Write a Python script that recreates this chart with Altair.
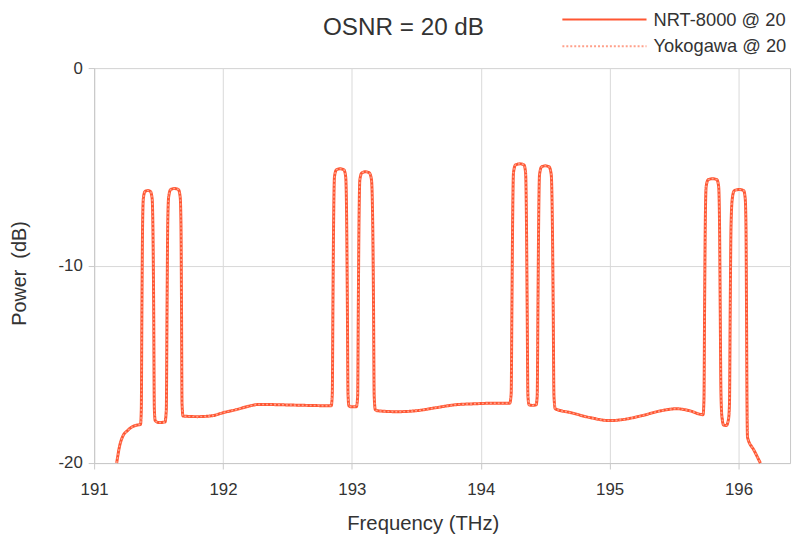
import altair as alt
import pandas as pd

# Spectrum (frequency in THz, power in dB)
freq = [
    191.175, 191.199, 191.222, 191.260, 191.300, 191.340, 191.360,
    # channel 1
    191.366, 191.371, 191.376, 191.382, 191.395, 191.416, 191.437, 191.450, 191.456, 191.462, 191.467, 191.474,
    191.500, 191.550,
    # channel 2
    191.560, 191.566, 191.571, 191.578, 191.594, 191.624, 191.654, 191.668, 191.674, 191.678, 191.682, 191.690,
    191.800, 191.920, 192.000, 192.100, 192.200, 192.280, 192.450, 192.650, 192.840,
    # channel 3
    192.848, 192.853, 192.858, 192.865, 192.880, 192.909, 192.938, 192.952, 192.960, 192.965, 192.970, 192.977,
    192.990, 193.035,
    # channel 4
    193.045, 193.050, 193.055, 193.062, 193.078, 193.105, 193.135, 193.152, 193.162, 193.168, 193.173, 193.182,
    193.200, 193.350, 193.500, 193.650, 193.800, 193.950, 194.100, 194.225,
    # channel 5
    194.236, 194.242, 194.247, 194.254, 194.270, 194.305, 194.335, 194.348, 194.355, 194.360, 194.366, 194.375,
    194.400, 194.430,
    # channel 6
    194.438, 194.444, 194.449, 194.456, 194.472, 194.500, 194.530, 194.547, 194.556, 194.562, 194.568, 194.578,
    194.700, 194.850, 195.000, 195.100, 195.250, 195.400, 195.520, 195.620, 195.725,
    # channel 7
    195.732, 195.737, 195.742, 195.749, 195.765, 195.801, 195.832, 195.846, 195.853, 195.858, 195.864, 195.872,
    195.885, 195.905, 195.922,
    # channel 8
    195.930, 195.936, 195.942, 195.952, 195.968, 196.008, 196.040, 196.052, 196.058, 196.062, 196.066, 196.070,
    196.120, 196.170,
]
power = [
    -20.0, -19.1, -18.65, -18.35, -18.15, -18.07, -18.05,
    -17.3, -12.0, -8.0, -6.6, -6.25, -6.2, -6.25, -6.6, -8.0, -12.0, -17.2, -17.85,
    -17.95, -17.92,
    -17.3, -12.0, -8.0, -6.55, -6.15, -6.1, -6.15, -6.55, -8.0, -12.0, -17.0, -17.62,
    -17.65, -17.6, -17.45, -17.3, -17.12, -17.03, -17.05, -17.08, -17.1,
    -16.5, -12.0, -8.0, -5.5, -5.15, -5.1, -5.15, -5.5, -8.0, -12.0, -16.5, -17.1,
    -17.15, -17.15,
    -16.6, -12.0, -8.0, -5.65, -5.3, -5.25, -5.3, -5.65, -8.0, -12.0, -16.6, -17.3,
    -17.35, -17.4, -17.35, -17.2, -17.05, -17.0, -16.97, -16.97,
    -16.5, -12.0, -8.0, -5.3, -4.9, -4.85, -4.9, -5.3, -8.0, -12.0, -16.6, -17.05,
    -17.08, -17.05,
    -16.6, -12.0, -8.0, -5.4, -5.0, -4.95, -5.0, -5.4, -8.0, -12.0, -16.6, -17.25,
    -17.45, -17.7, -17.85, -17.8, -17.6, -17.35, -17.25, -17.35, -17.55,
    -16.8, -12.0, -8.0, -6.0, -5.65, -5.6, -5.65, -6.0, -8.0, -12.0, -16.5, -17.7,
    -18.08, -18.1, -17.8,
    -17.0, -12.0, -8.0, -6.6, -6.2, -6.15, -6.2, -6.6, -8.0, -12.0, -17.0, -18.7,
    -19.35, -20.0,
]
# The two instruments' traces coincide in the picture
series_names = ["NRT-8000 @ 20", "Yokogawa @ 20"]
series_colors = ["#ff5632", "#ffa08a"]
series_dash = [[1, 0], [2, 2]]
x_ticks = [191, 192, 193, 194, 195, 196]
y_ticks = [-20, -10, 0]

rows = []
for name in series_names:
    for f, p in zip(freq, power):
        rows.append({"series": name, "freq": f, "power": p})
df = pd.DataFrame(rows)

FONT = "Liberation Sans"
TXT = "#333333"

legend = alt.Legend(
    title=None, orient="none", legendX=472, legendY=-60,
    symbolType="M-1,0H7.5", symbolSize=400, symbolStrokeWidth=2,
    labelFont=FONT, labelFontSize=18.5, labelColor=TXT, labelOffset=71,
    rowPadding=6, padding=0,
)

base = alt.Chart(df).encode(
    x=alt.X("freq:Q", scale=alt.Scale(domain=[191, 196.4], nice=False, zero=False),
            axis=alt.Axis(values=x_ticks, format="d", title="Frequency (THz)",
                          tickSize=6, labelPadding=13, labelFontSize=17, labelFlush=False,
                          titleFontSize=20.5, titleX=332, titleY=61, titleBaseline="middle")),
    y=alt.Y("power:Q", scale=alt.Scale(domain=[-20, 0], nice=False, zero=False),
            axis=alt.Axis(values=y_ticks, labelExpr="'' + datum.value", title="Power\u00a0 (dB)",
                          tickSize=6, labelPadding=6, labelFontSize=17, labelFlush=False,
                          titleFontSize=20, titleX=-75, titleY=207, titleBaseline="middle")),
    color=alt.Color("series:N", scale=alt.Scale(domain=series_names, range=series_colors), legend=legend),
    strokeDash=alt.StrokeDash("series:N", scale=alt.Scale(domain=series_names, range=series_dash), legend=legend),
)

solid = base.transform_filter(alt.datum.series == series_names[0]).mark_line(
    strokeWidth=3, interpolate="monotone")
dotted = base.transform_filter(alt.datum.series == series_names[1]).mark_line(
    strokeWidth=1.5, interpolate="monotone")

chart = alt.layer(solid, dotted).properties(
    width=703, height=399,
    autosize=alt.AutoSizeParams(type="none"),
    padding={"left": 87, "top": 58, "right": 5, "bottom": 70},
    title=alt.TitleParams("OSNR = 20 dB", font=FONT, fontSize=24.5, fontWeight="normal",
                          color=TXT, anchor="middle", frame="group", dx=-39, offset=0,
                          baseline="alphabetic", dy=51),
).configure_view(stroke="#c8c8c8").configure_axis(
    labelFont=FONT, titleFont=FONT, labelColor=TXT, titleColor=TXT,
    titleFontWeight="normal", gridColor="#d9d9d9", domainColor="#c8c8c8",
    tickColor="#c8c8c8",
)

chart.save("out.html", embed_options={"renderer": "svg", "actions": False})
